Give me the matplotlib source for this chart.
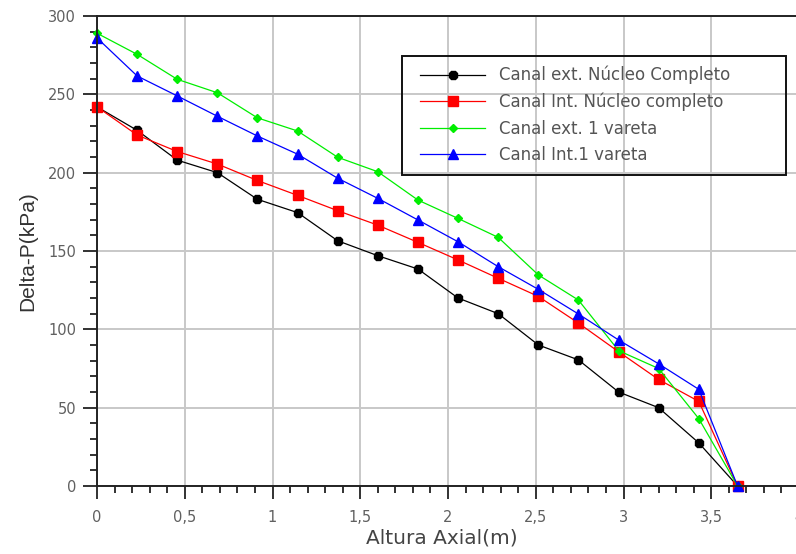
import matplotlib
matplotlib.use("Agg")
import matplotlib.pyplot as plt
from matplotlib.ticker import MultipleLocator, FuncFormatter
from matplotlib.patches import Rectangle

# Data
altura = [0, 0.229, 0.457, 0.686, 0.914, 1.143, 1.372, 1.600, 1.829,
          2.057, 2.286, 2.515, 2.743, 2.972, 3.200, 3.429, 3.650]
ext_nucleo = [242, 227, 208, 200, 183, 174.5, 156.5, 147, 138.5, 120, 110,
              90, 80.5, 60, 50, 27.5, 0]
int_nucleo = [242, 224, 213.5, 205.5, 195, 185.5, 175.7, 166.5, 155.5, 144.3,
              132.6, 121, 104, 85.7, 68, 54, 0]
ext_vareta = [289, 275.5, 259.6, 251, 235, 226.6, 209.8, 200.6, 182.5, 170.8,
              158.7, 134.7, 118.7, 86.4, 75, 43, 0]
int_vareta = [286, 261.7, 249, 236, 223.4, 211.8, 196.4, 183.6, 169.8, 155.9,
              140, 125.5, 109.8, 93.2, 78, 61.7, 0]
labels = ["Canal ext. Núcleo Completo", "Canal Int. Núcleo completo",
          "Canal ext. 1 vareta", "Canal Int.1 vareta"]

W, H = 796, 554
fig = plt.figure(figsize=(W/100, H/100), dpi=100)
ax = fig.add_axes([97/W, 68/H, 702/W, 470/H])

ax.plot(altura, ext_nucleo, color="black", lw=0.9, marker="8", ms=6.5,
        label=labels[0], clip_on=False)
ax.plot(altura, int_nucleo, color="#ff0000", lw=0.9, marker="s", ms=7,
        label=labels[1], clip_on=False)
ax.plot(altura, ext_vareta, color="#00ee00", lw=0.9, marker="D", ms=4.5,
        label=labels[2], clip_on=False)
ax.plot(altura, int_vareta, color="#0000ff", lw=0.9, marker="^", ms=7,
        label=labels[3], clip_on=False)

ax.set_xlim(0, 4)
ax.set_ylim(0, 300)
ax.xaxis.set_major_locator(MultipleLocator(0.5))
ax.xaxis.set_minor_locator(MultipleLocator(0.1))
ax.yaxis.set_major_locator(MultipleLocator(50))
ax.yaxis.set_minor_locator(MultipleLocator(10))
ax.xaxis.set_major_formatter(FuncFormatter(lambda v, p: ("%g" % v).replace(".", ",")))
ax.grid(True, which="major", color="#c8c8c8", lw=1.4)
ax.set_axisbelow(True)

for s in ["left", "bottom", "top", "right"]:
    ax.spines[s].set_color("#222222")
    ax.spines[s].set_linewidth(1.4)

ax.tick_params(which="major", direction="out", length=10, width=1.3,
               colors="#222222", labelcolor="#606060", labelsize=10.5, pad=5)
ax.tick_params(which="minor", direction="out", length=5, width=1.3,
               colors="#222222")
ax.tick_params(axis="x", which="major", length=9, pad=8)

ax.set_xlabel("Altura Axial(m)", fontsize=14.5, color="#444444",
              family="DejaVu Sans", labelpad=4)
ax.xaxis.set_label_coords(345/702, -0.09)
ax.set_ylabel("Delta-P(kPa)", fontsize=15, color="#333333",
              family="Liberation Sans", labelpad=8)

# legend frame box
ax.add_patch(Rectangle(((402-97)/702, (486-175)/470), (786-402)/702, 119/470,
                       transform=ax.transAxes, fill=False, edgecolor="#111111",
                       lw=1.4, clip_on=False, zorder=5))
leg = ax.legend(loc="upper left",
                bbox_to_anchor=((420-97)/702, (486-66)/470),
                frameon=False, handlelength=3.9, handletextpad=0.85,
                labelspacing=0.5, borderpad=0, borderaxespad=0,
                prop={"family": "DejaVu Sans", "size": 12})
for t in leg.get_texts():
    t.set_color("#555555")

fig.savefig("out.png", dpi=100)
